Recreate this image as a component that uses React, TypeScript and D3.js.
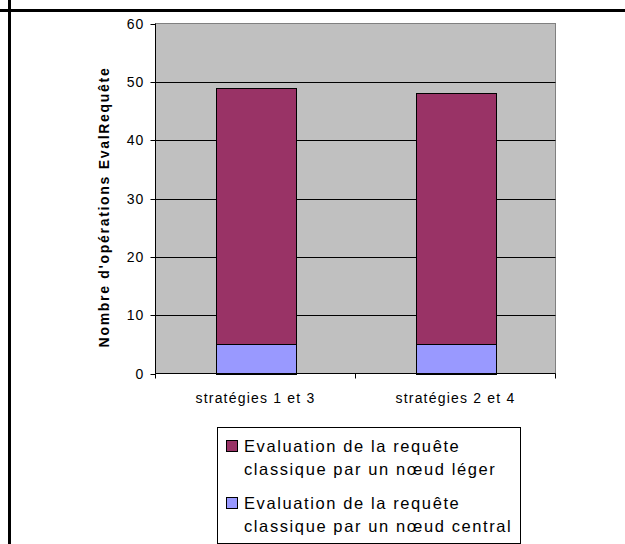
import React from "react";
import * as d3 from "d3";

const categories = ["stratégies 1 et 3", "stratégies 2 et 4"];
const centralValues = [5, 5];
const lightValues = [44, 43];
const yTicks = [0, 10, 20, 30, 40, 50, 60];
const seriesNames = [
  ["Evaluation de la requête", "classique par un nœud léger"],
  ["Evaluation de la requête", "classique par un nœud central"],
];
const seriesColors = ["#993366", "#9999FF"];
const yTitle = "Nombre d'opérations EvalRequête";

const FONT = "Arial, 'Liberation Sans', sans-serif";

export default function App() {
  const W = 625, H = 544;
  const plot = { left: 155.5, right: 555.5, top: 23.5, bottom: 373.5 };
  const x = d3.scaleBand<string>().domain(categories).range([plot.left, plot.right]).paddingInner(0.6).paddingOuter(0.3);
  const y = d3.scaleLinear().domain([0, 60]).range([plot.bottom, plot.top]);
  const stackData = categories.map((c, i) => ({ cat: c, central: centralValues[i], light: lightValues[i] }));
  const stack = d3.stack<any>().keys(["central", "light"])(stackData);
  const bandOuter = d3.scaleBand<string>().domain(categories).range([plot.left, plot.right]);
  const boundaries = [plot.left, ...categories.map((c) => (bandOuter(c) as number) + bandOuter.bandwidth())];

  return (
    <svg width={W} height={H} style={{ position: "absolute", left: 0, top: 0, background: "#fff" }} fontFamily={FONT}>
      {/* page frame lines */}
      <line x1={0} x2={W} y1={10.5} y2={10.5} stroke="#000" strokeWidth={3} />
      <line x1={9.5} x2={9.5} y1={0} y2={H} stroke="#000" strokeWidth={3} />

      {/* plot area */}
      <rect x={plot.left} y={plot.top} width={plot.right - plot.left} height={plot.bottom - plot.top} fill="#C0C0C0" stroke="#808080" strokeWidth={1} />
      {yTicks.filter((t) => t > 0 && t < 60).map((t) => (
        <line key={t} x1={plot.left} x2={plot.right} y1={Math.round(y(t)) + 0.5} y2={Math.round(y(t)) + 0.5} stroke="#000" strokeWidth={1} />
      ))}

      {/* bars */}
      {stack.map((layer, si) => (
        <g key={si}>
          {layer.map((d, i) => (
            <rect
              key={i}
              x={Math.round(x(categories[i]) as number) + 0.5}
              y={Math.round(y(d[1])) + 0.5}
              width={Math.round(x.bandwidth())}
              height={Math.round(y(d[0])) - Math.round(y(d[1]))}
              fill={seriesColors[1 - si]}
              stroke="#000"
              strokeWidth={1}
            />
          ))}
        </g>
      ))}

      {/* axes */}
      <line x1={plot.left} x2={plot.left} y1={plot.top} y2={plot.bottom} stroke="#000" />
      <line x1={plot.left} x2={plot.right} y1={plot.bottom} y2={plot.bottom} stroke="#000" />
      {yTicks.map((t) => (
        <g key={t}>
          <line x1={plot.left - 5} x2={plot.left} y1={Math.round(y(t)) + 0.5} y2={Math.round(y(t)) + 0.5} stroke="#000" />
          <text x={144} y={y(t)} dy="0.36em" textAnchor="end" fontSize={14} letterSpacing={0.8}>{t}</text>
        </g>
      ))}
      {boundaries.map((b, i) => (
        <line key={i} x1={b} x2={b} y1={plot.bottom} y2={plot.bottom + 5} stroke="#000" />
      ))}
      {categories.map((c) => (
        <text key={c} x={(x(c) as number) + x.bandwidth() / 2} y={403} textAnchor="middle" fontSize={14} letterSpacing={1.2}>{c}</text>
      ))}

      {/* y title */}
      <text transform={`translate(109, 207) rotate(-90)`} textAnchor="middle" fontSize={14} fontWeight="bold" letterSpacing={1.7}>{yTitle}</text>

      {/* legend */}
      <rect x={217.5} y={427.5} width={303} height={116} fill="#fff" stroke="#000" strokeWidth={1} />
      {seriesNames.map((lines, i) => (
        <g key={i} transform={`translate(0, ${i * 57})`}>
          <rect x={226.5} y={440.5} width={11} height={11} fill={seriesColors[i]} stroke="#000" strokeWidth={1} />
          <text x={244} y={452} fontSize={16.5} letterSpacing={1.6}>{lines[0]}</text>
          <text x={244} y={475} fontSize={16.5} letterSpacing={1.6}>{lines[1]}</text>
        </g>
      ))}
    </svg>
  );
}
